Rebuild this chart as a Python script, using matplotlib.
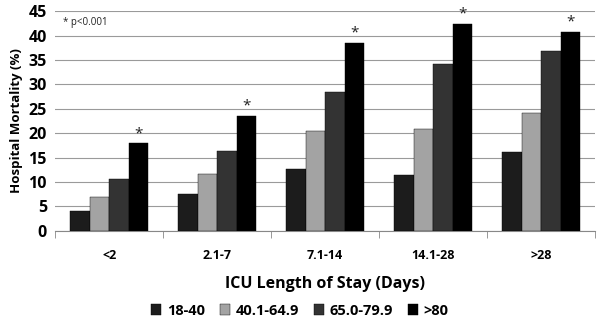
import matplotlib.pyplot as plt
import numpy as np

plt.rcParams['font.family'] = 'Open Sans'

stays = ['<2', '2.1-7', '7.1-14', '14.1-28', '>28']
ages = ['18-40', '40.1-64.9', '65.0-79.9', '>80']
age_18_40 = [4.0, 7.6, 12.7, 11.5, 16.2]
age_40_65 = [6.9, 11.6, 20.4, 20.8, 24.2]
age_65_80 = [10.6, 16.3, 28.5, 34.1, 36.9]
age_80 = [17.9, 23.6, 38.5, 42.3, 40.8]
colors = ['#1c1c1c', '#a3a3a3', '#333333', '#000000']

BAR_WIDTH = 0.18

fig = plt.figure(figsize=(6, 3.27), dpi=100)
ax = fig.add_axes([0.092, 0.294, 0.9, 0.672])

xs = np.arange(len(stays))
series = [age_18_40, age_40_65, age_65_80, age_80]
for i, (label, values) in enumerate(zip(ages, series)):
    offset = (i - 1.5) * BAR_WIDTH
    ax.bar(xs + offset, values, width=BAR_WIDTH, color=colors[i], label=label,
           edgecolor='black', linewidth=0.3, zorder=3)

# significance markers above the >80 bars
for x, v in zip(xs, age_80):
    ax.text(x + 1.5 * BAR_WIDTH, v + 0.5, '*', ha='center', va='bottom',
            fontsize=11, color='#222222')

ax.text(0.015, 0.975, '* p<0.001', transform=ax.transAxes, fontsize=7,
        va='top', ha='left', color='#222222')

ax.set_xlim(-0.5, len(stays) - 0.5)
ax.set_ylim(0, 45)
ax.set_yticks(range(0, 50, 5))
ax.yaxis.grid(True, color='#9a9a9a', linewidth=0.8, zorder=0)
ax.set_axisbelow(True)

ax.set_xticks(xs)
ax.set_xticklabels(stays, fontweight='bold', fontsize=9)
ax.set_xticks(np.arange(-0.5, len(stays)), minor=True)
ax.tick_params(axis='x', which='major', length=0, pad=13)
ax.tick_params(axis='x', which='minor', length=5, color='#888888')
ax.tick_params(axis='y', length=0, labelsize=11.5, pad=6)
for lbl in ax.get_yticklabels():
    lbl.set_fontweight('bold')

for side in ['top', 'right', 'left']:
    ax.spines[side].set_visible(False)
ax.spines['bottom'].set_color('#888888')

ax.set_ylabel('Hospital Mortality (%)', fontweight='bold', fontsize=9.5)
ax.set_xlabel('ICU Length of Stay (Days)', fontweight='bold', fontsize=11.5, labelpad=10)

handles, labels = ax.get_legend_handles_labels()
fig.legend(handles, labels, loc='center', bbox_to_anchor=(0.5, 0.05), ncol=4,
           frameon=False, handlelength=0.7, handleheight=0.7, handletextpad=0.4,
           columnspacing=1.0, prop={'weight': 'bold', 'size': 10.5})

plt.savefig('out.png', dpi=100)
